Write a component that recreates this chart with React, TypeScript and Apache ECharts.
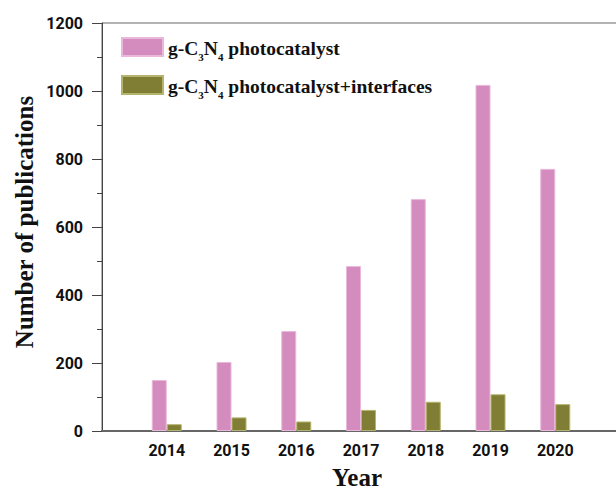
import React, { useEffect, useRef } from "react";
import * as echarts from "echarts";

const years = [2014, 2015, 2016, 2017, 2018, 2019, 2020];
const photocatalyst = [150, 203, 294, 485, 682, 1018, 771];
const withInterfaces = [20, 40, 28, 62, 86, 108, 79];
const seriesNames = ["g-C3N4 photocatalyst", "g-C3N4 photocatalyst+interfaces"];
const yTicks = [0, 200, 400, 600, 800, 1000, 1200];
const yTitle = "Number of publications";
const xTitle = "Year";

const SERIF = "'Liberation Serif', 'Times New Roman', serif";
const SANS = "Roboto, 'Noto Sans', sans-serif";

export default function App() {
  const ref = useRef<HTMLDivElement>(null);
  useEffect(() => {
    if (!ref.current) return;
    const chart = echarts.init(ref.current, undefined, { renderer: "svg" });
    const pairs = (vals: number[]) => years.map((y, i) => [y, vals[i]]);
    chart.setOption({
      animation: false,
      backgroundColor: "#ffffff",
      grid: {
        left: 102,
        top: 23,
        right: -4,
        bottom: 60,
        outerBoundsMode: "none",
        containLabel: false,
        show: true,
        borderColor: "#666",
        borderWidth: 1,
        backgroundColor: "transparent",
      },
      graphic: [
        {
          type: "text",
          x: 24,
          y: 222,
          rotation: Math.PI / 2,
          style: {
            text: yTitle,
            fontFamily: SERIF,
            fontWeight: "bold",
            fontSize: 25,
            fill: "#111",
            align: "center",
            verticalAlign: "middle",
          },
        },
        {
          type: "text",
          x: 357,
          y: 490,
          style: {
            text: xTitle,
            fontFamily: SERIF,
            fontWeight: "bold",
            fontSize: 25,
            fill: "#111",
            align: "center",
            verticalAlign: "bottom",
          },
        },
      ],
      legend: {
        orient: "vertical",
        left: 121,
        top: 37,
        padding: 0,
        itemWidth: 41,
        itemHeight: 18,
        itemGap: 13,
        icon: "rect",
        data: seriesNames,
        formatter: (name: string) => {
          const rest = name.replace("g-C3N4", "");
          return "{a|g-C}{s|3}{a|N}{s|4}{a|" + rest + "}";
        },
        textStyle: {
          rich: {
            a: {
              fontFamily: SERIF,
              fontWeight: "bold",
              fontSize: 19.5,
              color: "#111",
              lineHeight: 22,
              verticalAlign: "bottom",
            },
            s: {
              fontFamily: SERIF,
              fontWeight: "bold",
              fontSize: 11,
              color: "#111",
              lineHeight: 12,
              verticalAlign: "bottom",
              padding: [0, 0, -4, 0],
            },
          },
        },
      },
      xAxis: {
        type: "value",
        min: 2013,
        max: 2021,
        interval: 1,
        axisLine: { show: true, lineStyle: { color: "#666", width: 2 } },
        axisTick: { show: false },
        splitLine: { show: false },
        axisLabel: {
          margin: 11,
          fontFamily: SANS,
          fontWeight: "bold",
          fontSize: 16,
          color: "#111",
          formatter: (v: number) => (years.indexOf(v) >= 0 ? String(v) : ""),
        },
      },
      yAxis: {
        type: "value",
        min: yTicks[0],
        max: yTicks[yTicks.length - 1],
        interval: 200,
        axisLine: { show: true, lineStyle: { color: "#444", width: 1 } },
        axisTick: { show: true, inside: false, length: 10, lineStyle: { color: "#444" } },
        minorTick: { show: true, splitNumber: 2, length: 5, lineStyle: { color: "#444" } },
        splitLine: { show: false },
        axisLabel: {
          margin: 19,
          fontFamily: SANS,
          fontWeight: "bold",
          fontSize: 16,
          color: "#111",
          formatter: (v: number) => String(v),
        },
      },
      series: [
        {
          name: seriesNames[0],
          type: "bar",
          barWidth: 15,
          barGap: "0%",
          data: pairs(photocatalyst),
          itemStyle: { color: "#D38CBD", borderColor: "#EAB8DA", borderWidth: 1 },
        },
        {
          name: seriesNames[1],
          type: "bar",
          barWidth: 15,
          barGap: "0%",
          data: pairs(withInterfaces),
          itemStyle: { color: "#807E34", borderColor: "#B5B46E", borderWidth: 1 },
        },
      ],
    });
    return () => chart.dispose();
  }, []);
  return (
    <div
      ref={ref}
      style={{ position: "absolute", left: 0, top: 0, width: 616, height: 491, background: "#fff" }}
    />
  );
}
